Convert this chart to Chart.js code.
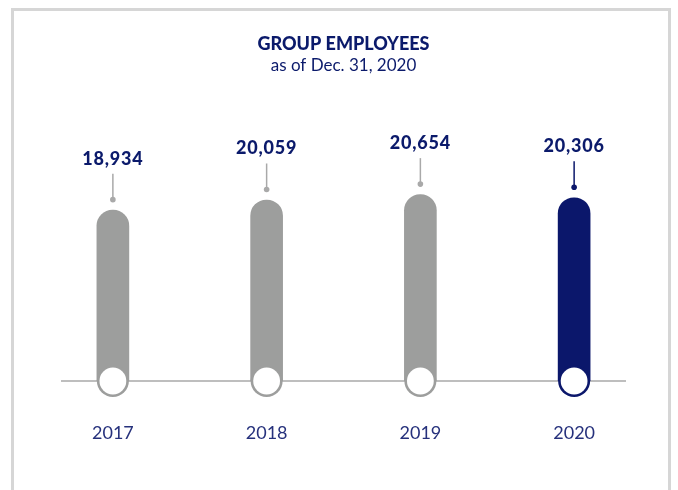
<!DOCTYPE html>
<html>
<head>
<meta charset="utf-8">
<script src="https://cdn.jsdelivr.net/npm/chart.js@4.4.1/dist/chart.umd.min.js"></script>
<style>
  html, body { margin: 0; padding: 0; background: #ffffff; }
  #wrap { position: relative; width: 678px; height: 490px; overflow: hidden; }
  #frame { position: absolute; left: 11px; top: 8px; width: 660px; height: 500px; border: 3px solid #d6d6d6; box-sizing: border-box; }
  canvas { position: absolute; left: 0; top: 0; }
</style>
</head>
<body>
<div id="wrap">
  <div id="frame"></div>
  <canvas id="c" width="678" height="490"></canvas>
</div>
<script>
const years = ['2017', '2018', '2019', '2020'];
const employees = [18934, 20059, 20654, 20306];
const barColors = ['#9d9e9d', '#9d9e9d', '#9d9e9d', '#0b176b'];
const connectorColors = ['#a9a9a9', '#a9a9a9', '#a9a9a9', '#0b176b'];
const titleText = 'GROUP EMPLOYEES';
const subtitleText = 'as of Dec. 31, 2020';

const NAVY = '#0b1a6b';
const FONT = 'Lato, "Open Sans", sans-serif';

const pillPlugin = {
  id: 'pill',
  beforeDatasetsDraw(chart) {
    const ctx = chart.ctx;
    const y0 = chart.scales.y.getPixelForValue(0);
    ctx.save();
    ctx.strokeStyle = '#a8a8a8';
    ctx.lineWidth = 1.6;
    ctx.beginPath();
    ctx.moveTo(61, y0);
    ctx.lineTo(626, y0);
    ctx.stroke();
    ctx.restore();
  },
  afterDatasetsDraw(chart) {
    const ctx = chart.ctx;
    const meta = chart.getDatasetMeta(0);
    const y0 = chart.scales.y.getPixelForValue(0);
    ctx.save();
    meta.data.forEach((el, i) => {
      const r = el.width / 2;
      ctx.fillStyle = barColors[i];
      ctx.beginPath();
      ctx.arc(el.x, y0, r, 0, Math.PI * 2);
      ctx.fill();
      ctx.fillStyle = '#ffffff';
      ctx.beginPath();
      ctx.arc(el.x, y0, r - 2.6, 0, Math.PI * 2);
      ctx.fill();
      const dotY = el.y - 10.5;
      const lineTop = dotY - 26;
      ctx.strokeStyle = connectorColors[i];
      ctx.lineWidth = 1.5;
      ctx.beginPath();
      ctx.moveTo(el.x, lineTop);
      ctx.lineTo(el.x, dotY);
      ctx.stroke();
      ctx.fillStyle = connectorColors[i];
      ctx.beginPath();
      ctx.arc(el.x, dotY, 2.8, 0, Math.PI * 2);
      ctx.fill();
      ctx.fillStyle = NAVY;
      ctx.font = '900 18px ' + FONT;
      try { ctx.letterSpacing = '0.8px'; } catch (e) {}
      ctx.textAlign = 'center';
      ctx.textBaseline = 'alphabetic';
      ctx.fillText(employees[i].toLocaleString('en-US'), el.x, lineTop - 9);
      try { ctx.letterSpacing = '0px'; } catch (e) {}
    });
    ctx.restore();
  }
};

new Chart(document.getElementById('c'), {
  type: 'bar',
  data: {
    labels: years,
    datasets: [{
      data: employees,
      backgroundColor: barColors,
      borderRadius: { topLeft: 16, topRight: 16, bottomLeft: 0, bottomRight: 0 },
      borderSkipped: 'start',
      barThickness: 32
    }]
  },
  options: {
    responsive: false,
    animation: false,
    devicePixelRatio: 1,
    layout: { padding: { left: 36, right: 27, top: 0, bottom: 5.4 } },
    plugins: {
      legend: { display: false },
      tooltip: { enabled: false },
      title: {
        display: true,
        text: titleText,
        color: NAVY,
        font: { family: FONT, size: 18, weight: '900' },
        padding: { top: 33, bottom: 0 }
      },
      subtitle: {
        display: true,
        text: subtitleText,
        color: NAVY,
        font: { family: FONT, size: 17, weight: 'normal' },
        padding: { top: 1, bottom: 43.3 }
      }
    },
    scales: {
      x: {
        grid: { display: false, drawTicks: false },
        border: { display: false },
        ticks: {
          color: '#26317c',
          font: { family: FONT, size: 18 },
          padding: 41
        }
      },
      y: {
        display: false,
        min: 0,
        max: 29000
      }
    }
  },
  plugins: [pillPlugin]
});
</script>
</body>
</html>
